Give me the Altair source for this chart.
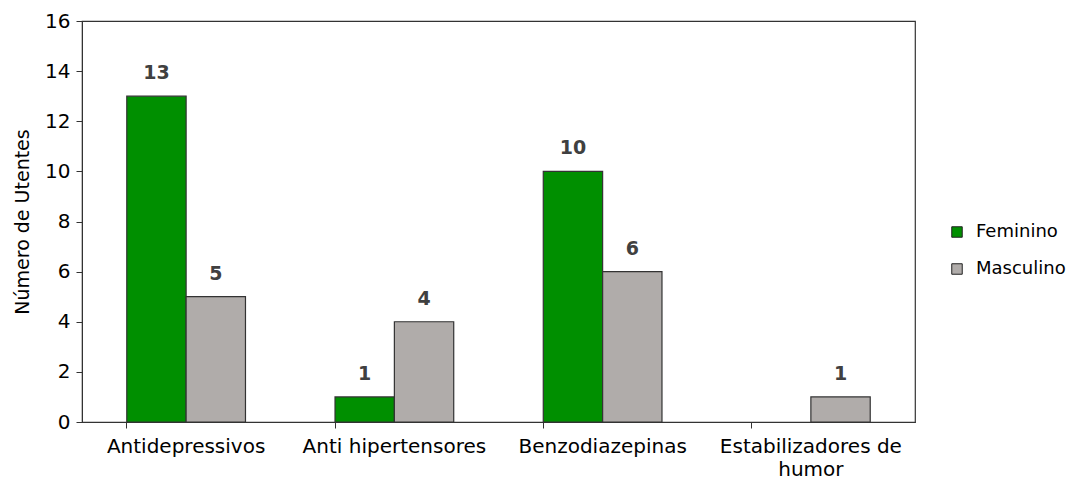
import altair as alt
import pandas as pd

categories = ["Antidepressivos", "Anti hipertensores", "Benzodiazepinas", "Estabilizadores de\nhumor"]
feminino = [13, 1, 10, 0]
masculino = [5, 4, 6, 1]
series = ["Feminino", "Masculino"]
colors = ["#008f00", "#b0acaa"]

rows = []
for c, f, m in zip(categories, feminino, masculino):
    rows.append({"cat": c, "sexo": "Feminino", "n": f, "lbl": str(f) if f > 0 else ""})
    rows.append({"cat": c, "sexo": "Masculino", "n": m, "lbl": str(m) if m > 0 else ""})
df = pd.DataFrame(rows)

FONT = "DejaVu Sans"
FS = 20

x = alt.X("cat:N", sort=categories, title=None,
          scale=alt.Scale(paddingInner=0.43, paddingOuter=0.215),
          axis=alt.Axis(labelAngle=0, labelExpr="split(datum.label, '\\n')",
                        bandPosition=0, tickSize=6, labelPadding=8, labelLimit=400,
                        labelFontSize=FS, labelColor="#000000",
                        domainColor="#333333", tickColor="#333333",
                        labelLineHeight=23))
xo = alt.XOffset("sexo:N", sort=series, scale=alt.Scale(paddingInner=0, paddingOuter=0))

base = alt.Chart(df)

bars = base.transform_filter("datum.n > 0").mark_bar(stroke="#333333", strokeWidth=1.2).encode(
    x=x,
    xOffset=xo,
    y=alt.Y("n:Q", title="Número de Utentes",
            scale=alt.Scale(domain=[0, 16]),
            axis=alt.Axis(values=list(range(0, 17, 2)), grid=False, tickSize=6,
                          labelFontSize=FS, labelColor="#000000", labelPadding=6,
                          titleFontSize=FS - 1, titleFontWeight="normal", titleColor="#000000",
                          titlePadding=12, domainColor="#333333", tickColor="#333333")),
    color=alt.Color("sexo:N", sort=series,
                    scale=alt.Scale(domain=series, range=colors),
                    legend=alt.Legend(title=None, orient="none", legendX=866, legendY=202,
                                      symbolType="square", symbolSize=110,
                                      symbolStrokeColor="#222222", symbolStrokeWidth=1,
                                      labelFontSize=18, labelColor="#000000",
                                      rowPadding=19, labelOffset=10, labelLimit=300)),
)

labels = base.mark_text(dy=-13, baseline="bottom", fontSize=FS - 1, fontWeight="bold",
                        color="#404040", font=FONT).encode(
    x=x,
    xOffset=xo,
    y="n:Q",
    text="lbl:N",
)

chart = alt.layer(bars, labels).properties(
    width=833, height=401,
    autosize=alt.AutoSizeParams(type="none"),
    padding={"left": 74, "top": 13, "right": 164, "bottom": 61},
).configure(font=FONT).configure_view(
    stroke="#333333", strokeWidth=1.2
).configure_axis(labelFont=FONT, titleFont=FONT).configure_legend(labelFont=FONT)

chart.save("out.html", embed_options={"renderer": "svg", "actions": False})
